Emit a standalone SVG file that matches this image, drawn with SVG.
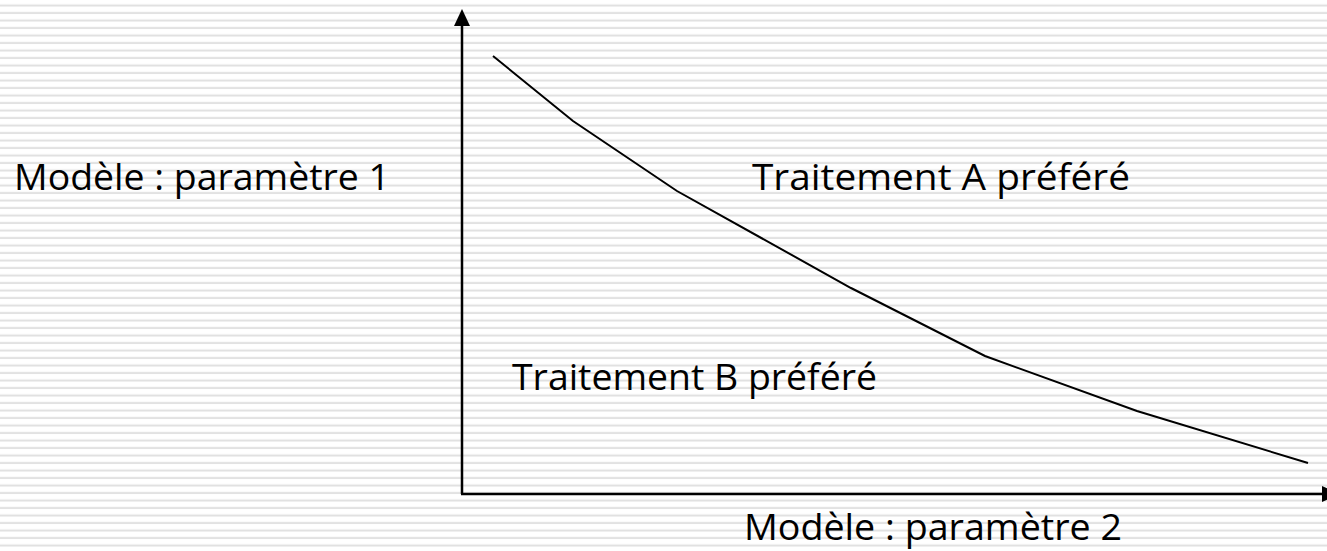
<svg xmlns="http://www.w3.org/2000/svg" width="1327" height="551" viewBox="0 0 1327 551">
<defs>
<pattern id="stripes" x="0" y="0" width="20" height="7.5" patternUnits="userSpaceOnUse">
<rect x="0" y="0" width="20" height="7.5" fill="#ffffff"/>
<rect x="0" y="4.5" width="20" height="2" fill="#e0e0e0"/>
</pattern>
<style>
.lbl { font-family: "Open Sans", "Liberation Sans", Arial, sans-serif; font-size: 36px; fill: #000; }
.axis { stroke: #000; stroke-width: 2.5; fill: none; }
.head { fill: #000; }
.curve { stroke: #000; stroke-width: 2; fill: none; }
</style>
</defs>
<rect width="1327" height="551" fill="url(#stripes)"/>
<g id="connectors">
<line class="axis" x1="462" y1="494" x2="462" y2="22"/>
<polygon class="head" points="462,9 470,26 454,26"/>
<line class="axis" x1="461" y1="494" x2="1325" y2="494"/>
<polygon class="head" points="1339,494 1322,486 1322,502"/>
<polyline id="boundary" class="curve" points="493,56 573,121 677,191 851,288 985,356 1137,411 1308,463"/>
</g>
<g id="label-y"><text class="lbl" x="14" y="190" textLength="376" lengthAdjust="spacingAndGlyphs">Modèle : paramètre 1</text></g>
<g id="label-a"><text class="lbl" x="752" y="190" textLength="378" lengthAdjust="spacingAndGlyphs">Traitement A préféré</text></g>
<g id="label-b"><text class="lbl" x="512" y="390" textLength="365" lengthAdjust="spacingAndGlyphs">Traitement B préféré</text></g>
<g id="label-x"><text class="lbl" x="744" y="540" textLength="378" lengthAdjust="spacingAndGlyphs">Modèle : paramètre 2</text></g>
</svg>
